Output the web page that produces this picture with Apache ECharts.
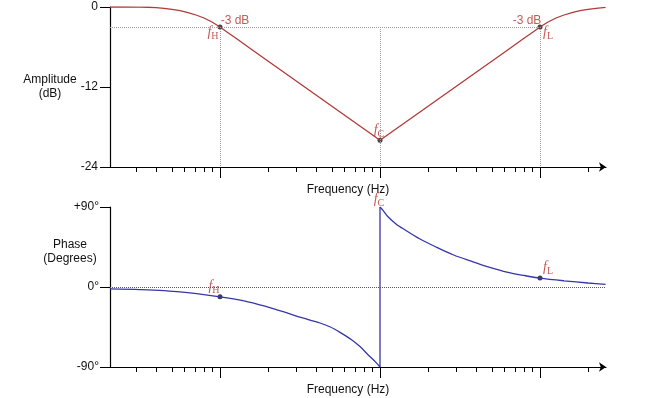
<!DOCTYPE html>
<html>
<head>
<meta charset="utf-8">
<script src="https://cdn.jsdelivr.net/npm/echarts@6/dist/echarts.min.js"></script>
<style>
  html, body { margin: 0; padding: 0; background: #fff; }
  #chart { width: 655px; height: 398px; }
</style>
</head>
<body>
<div id="chart"></div>
<script>
// x values are decades relative to fH, i.e. log10(f / fH)
const ampX = [-0.6875, -0.6, -0.5, -0.45, -0.4, -0.35, -0.3, -0.25, -0.2, -0.15, -0.1, -0.05, 0, 0.05, 0.1, 0.15, 0.2,
    1, 1.8, 1.85, 1.9, 1.95, 2, 2.05, 2.1, 2.15, 2.2, 2.25, 2.3, 2.35, 2.41];
const ampDb = [0, 0, -0.01, -0.04, -0.1, -0.2, -0.35, -0.55, -0.85, -1.2, -1.65, -2.25, -3, -3.85, -4.7, -5.55, -6.4,
    -20, -6.4, -5.55, -4.7, -3.85, -3, -2.25, -1.65, -1.2, -0.85, -0.55, -0.35, -0.2, -0.05];

// phase below fC and above fC; the jump at fC joins the two
const phaseLowX = [-0.6875, -0.5, -0.25, 0, 0.15, 0.29, 0.4, 0.5, 0.625, 0.69, 0.75, 0.82, 0.875, 0.93, 0.97, 1];
const phaseLowDeg = [-2.2, -3, -5.5, -11, -15.5, -22, -28, -34, -40.5, -45, -51, -59, -67, -77, -84, -90];
const phaseHighX = [1, 1.02, 1.05, 1.1, 1.15, 1.25, 1.35, 1.46, 1.57, 1.67, 1.8, 1.9, 2, 2.15, 2.3, 2.41];
const phaseHighDeg = [90, 86, 79, 71, 65, 54, 45, 36, 29, 23, 16.5, 13, 10, 7, 4.5, 3];

// marked frequencies fH, fC, fL
const markX = [0, 1, 2];
const markNames = ['H', 'C', 'L'];
const ampMarkDb = [-3, -20, -3];
const phaseMarkDeg = [-11, 90, 10];
const cutoffNote = '-3 dB';
const cutoffDb = -3;

// ticks, as multiples of fH
const minorTickF = [0.3, 0.4, 0.5, 0.6, 0.7, 0.8, 0.9, 2, 3, 4, 5, 6, 7, 8, 9, 20, 30, 40, 50, 60, 70, 80, 90, 200];
const majorTickF = [1, 10, 100];
const ampTicks = { '-24': '-24', '-12': '-12', '0': '0' };
const phaseTicks = { '-90': '-90°', '0': '0°', '90': '+90°' };

const xMin = -0.6875, xMax = 2.4125;
const font = "'Liberation Sans', Arial, sans-serif";
const ampColor = '#b03a38';
const phaseColor = '#3636a8';
const noteColor = '#b8302c';

const zip = (xs, ys) => xs.map((x, i) => [x, ys[i]]);

const richF = {
    f: { fontFamily: "'Liberation Serif', serif", fontStyle: 'italic', fontSize: 14, color: noteColor, lineHeight: 18 },
    s: { fontFamily: "'Liberation Serif', serif", fontSize: 10, color: noteColor, verticalAlign: 'bottom' },
};
function fLabel(sub, offset) {
    return { show: true, position: 'inside', offset, formatter: '{f|f}{s|' + sub + '}', rich: richF };
}

const ampOffsets = [[-7, 5], [-1, -10], [8, 5]];
const phaseOffsets = [[-6, -10], [-1, -8], [8, -11]];
const noteOffsets = [[15, -6], [-13, -6]];

function grid(top) { return { left: 110, top, width: 496, height: 160 }; }

function xAxis(gridIndex, major, withName) {
    return {
        type: 'value', gridIndex, min: xMin, max: xMax,
        axisLine: {
            show: !major, onZero: false,
            symbol: ['none', 'arrow'], symbolSize: [7, 7],
            lineStyle: { color: '#000', width: 1.2 },
        },
        axisTick: {
            show: true, length: major ? 11 : 5,
            lineStyle: { color: '#000', width: 1 },
            customValues: (major ? majorTickF : minorTickF).map(f => Math.log10(f)),
        },
        axisLabel: { show: false },
        splitLine: { show: false },
        name: withName ? 'Frequency (Hz)' : '',
        nameLocation: 'middle', nameGap: 17, nameMoveOverlap: false,
        nameTextStyle: { fontFamily: font, fontSize: 12, color: '#111', padding: [0, 20, 0, 0] },
    };
}

function yAxisBase(gridIndex, min, max, interval) {
    return {
        type: 'value', gridIndex, min, max, interval,
        axisLine: { show: true, onZero: false, lineStyle: { color: '#000', width: 1.2 } },
        axisTick: { show: true, length: 10, lineStyle: { color: '#000' } },
        splitLine: { show: false },
        nameLocation: 'middle', nameRotate: 0, nameMoveOverlap: false,
    };
}

const option = {
    animation: false,
    backgroundColor: '#fff',
    grid: [grid(7), grid(207), grid(7), grid(207)],
    xAxis: [xAxis(0, false, true), xAxis(1, false, true), xAxis(2, true, false), xAxis(3, true, false)],
    yAxis: [
        Object.assign(yAxisBase(0, -24, 0, 12), {
            axisLabel: { margin: 12, fontFamily: font, fontSize: 12, color: '#111', formatter: v => ampTicks[v] },
            name: 'Amplitude\n(dB)', nameGap: 60,
            nameTextStyle: { fontFamily: font, fontSize: 12, color: '#111', align: 'center', lineHeight: 14 },
        }),
        Object.assign(yAxisBase(1, -90, 90, 90), {
            axisLabel: { margin: 11, fontFamily: font, fontSize: 12, color: '#111', formatter: v => phaseTicks[v] },
            // the empty token lifts the two title lines above the 0° line
            name: 'Phase\n(Degrees)\n{gap| }', nameGap: 40,
            nameTextStyle: {
                fontFamily: font, fontSize: 12, color: '#111', align: 'center', lineHeight: 14,
                rich: { gap: { height: 70, lineHeight: 70 } },
            },
        }),
        { type: 'value', gridIndex: 2, min: -24, max: 0, show: false },
        { type: 'value', gridIndex: 3, min: -90, max: 90, show: false },
    ],
    series: [
        {
            name: 'Amplitude', type: 'line', xAxisIndex: 0, yAxisIndex: 0,
            data: zip(ampX, ampDb), showSymbol: false,
            lineStyle: { color: ampColor, width: 1.3 },
            markLine: {
                silent: true, symbol: ['none', 'none'], label: { show: false },
                lineStyle: { type: 'dotted', color: '#9a9a9a', width: 1 },
                data: [
                    [{ coord: [xMin, cutoffDb] }, { coord: [markX[2], cutoffDb] }],
                    ...markX.map(x => [{ coord: [x, cutoffDb] }, { coord: [x, -24] }]),
                ],
            },
        },
        {
            type: 'scatter', xAxisIndex: 0, yAxisIndex: 0, symbolSize: 5,
            itemStyle: { color: '#111' },
            data: markX.map((x, i) => ({ value: [x, ampMarkDb[i]], label: fLabel(markNames[i], ampOffsets[i]) })),
        },
        {
            type: 'scatter', xAxisIndex: 0, yAxisIndex: 0, symbolSize: 0,
            data: [markX[0], markX[2]].map((x, i) => ({
                value: [x, cutoffDb],
                label: { show: true, position: 'inside', offset: noteOffsets[i], formatter: cutoffNote,
                    fontFamily: font, fontSize: 12, color: noteColor },
            })),
        },
        {
            name: 'Phase', type: 'line', xAxisIndex: 1, yAxisIndex: 1,
            data: zip(phaseLowX, phaseLowDeg), showSymbol: false, smooth: 0.3,
            lineStyle: { color: phaseColor, width: 1.3 },
            markLine: {
                silent: true, symbol: ['none', 'none'], label: { show: false },
                lineStyle: { type: 'dotted', color: '#555', width: 1 },
                data: [[{ coord: [xMin, 0] }, { coord: [xMax, 0] }]],
            },
        },
        {
            name: 'Phase jump', type: 'line', xAxisIndex: 1, yAxisIndex: 1, showSymbol: false,
            data: [[phaseLowX[phaseLowX.length - 1], phaseLowDeg[phaseLowDeg.length - 1]], [phaseHighX[0], phaseHighDeg[0]]],
            lineStyle: { color: phaseColor, width: 1.3 },
        },
        {
            name: 'Phase', type: 'line', xAxisIndex: 1, yAxisIndex: 1,
            data: zip(phaseHighX, phaseHighDeg), showSymbol: false, smooth: 0.3,
            lineStyle: { color: phaseColor, width: 1.3 },
        },
        {
            type: 'scatter', xAxisIndex: 1, yAxisIndex: 1, symbolSize: 5,
            itemStyle: { color: '#111' },
            data: markX.map((x, i) => ({
                value: [x, phaseMarkDeg[i]],
                symbolSize: i === 1 ? 0 : 5,
                label: fLabel(markNames[i], phaseOffsets[i]),
            })),
        },
    ],
};

const chart = echarts.init(document.getElementById('chart'));
chart.setOption(option);
</script>
</body>
</html>
